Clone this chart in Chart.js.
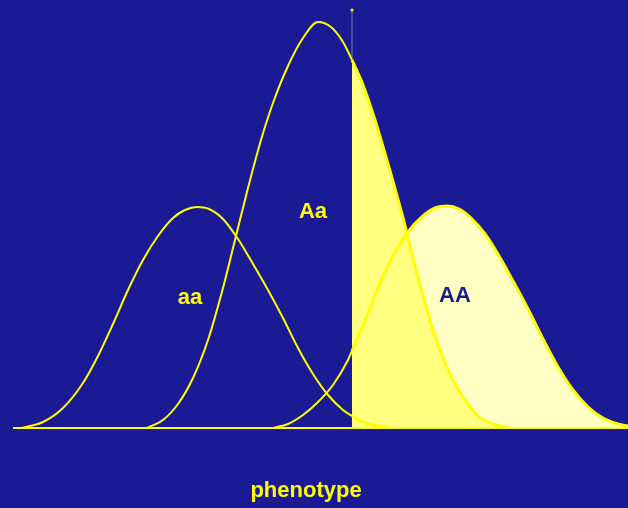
<!DOCTYPE html>
<html>
<head>
<meta charset="utf-8">
<title>phenotype</title>
<script src="https://cdn.jsdelivr.net/npm/chart.js@4.4.1/dist/chart.umd.min.js"></script>
<style>
  body { margin: 0; background: #1a1a94; }
  canvas { display: block; }
</style>
</head>
<body>
<canvas id="myChart" width="628" height="508"></canvas>
<script>
// genotype distributions along the phenotype axis, [phenotype, frequency]
const aaCurve = [[9,0],[30,6],[50,20],[70,45],[85,72],[100,104],[115,138],[130,168],[145,192],[160,210],
  [172,218],[184,221],[196,219],[210,209],[225,189],[240,164],[255,138],[270,110],[285,80],[300,54],
  [315,33],[330,18],[339,12],[345,8],[360,3],[377,0]];
const AaCurve = [[134,0],[150,8],[165,24],[180,50],[195,88],[210,140],[222,188],[235,240],[248,288],
  [260,325],[275,362],[290,390],[305,406],[318,401],[330,386],[339,368],[350,343],[362,308],[375,264],
  [390,210],[405,150],[420,98],[435,58],[450,31],[465,12],[480,4],[497,0]];
const AACurve = [[260,0],[275,4],[290,13],[305,26],[320,43],[335,68],[339,77],[350,102],[365,140],
  [380,172],[395,196],[410,212],[422,220],[434,222],[446,219],[458,210],[472,194],[486,172],[500,147],
  [515,119],[530,89],[545,61],[560,38],[575,21],[590,10],[605,4],[615,2]];
const threshold = 339;
const xRange = [0, 615];
const yRange = [0, 418];

const yellow = '#ffff00';

const toXY = arr => arr.map(p => ({ x: p[0], y: p[1] }));

// only the part right of the threshold gets filled
function curve(data, fillColor) {
  return {
    data: toXY(data),
    borderColor: yellow,
    borderWidth: 2,
    pointRadius: 0,
    cubicInterpolationMode: 'monotone',
    fill: 'origin',
    backgroundColor: fillColor,
    segment: {
      backgroundColor: c => c.p0.parsed.x >= threshold ? fillColor : 'rgba(0,0,0,0)',
      borderWidth: c => c.p0.parsed.x >= threshold ? 3 : 2
    }
  };
}

const textLabels = [
  { text: 'aa', x: 177, y: 124, color: yellow },
  { text: 'Aa', x: 300, y: 210, color: yellow },
  { text: 'AA', x: 442, y: 126, color: '#1c1c8c' },
  { text: 'phenotype', x: 293, y: -69, color: yellow }
];

const labelPlugin = {
  id: 'textLabels',
  afterDatasetsDraw(chart) {
    const { ctx, scales } = chart;
    ctx.save();
    ctx.font = 'bold 22px "Liberation Sans", Arial, sans-serif';
    ctx.textAlign = 'center';
    ctx.textBaseline = 'alphabetic';
    textLabels.forEach(l => {
      ctx.fillStyle = l.color;
      ctx.fillText(l.text, scales.x.getPixelForValue(l.x), scales.y.getPixelForValue(l.y));
    });
    ctx.restore();
  }
};

const ctx = document.getElementById('myChart');
const chart = new Chart(ctx, {
  type: 'line',
  data: {
    datasets: [
      curve(aaCurve, '#ffff80'),
      curve(AaCurve, '#ffff80'),
      curve(AACurve, '#ffffc4'),
      {
        // baseline
        data: toXY([[xRange[0], 0], [xRange[1], 0]]),
        borderColor: yellow,
        borderWidth: 2,
        pointRadius: 0,
        clip: false,
        fill: false
      },
      {
        // threshold marker
        data: toXY([[threshold, 368], [threshold, yRange[1]]]),
        borderColor: '#7c7ca4',
        borderWidth: 1,
        pointRadius: [0, 1.5],
        pointBackgroundColor: yellow,
        pointBorderWidth: 0,
        clip: false,
        fill: false
      }
    ]
  },
  options: {
    responsive: false,
    animation: false,
    devicePixelRatio: 1,
    layout: { autoPadding: false, padding: { left: 13, right: 0, top: 10, bottom: 80 } },
    scales: {
      x: { type: 'linear', display: false, min: xRange[0], max: xRange[1] },
      y: { display: false, min: yRange[0], max: yRange[1] }
    },
    plugins: {
      legend: { display: false },
      tooltip: { enabled: false },
      filler: { drawTime: 'beforeDatasetsDraw' }
    }
  },
  plugins: [labelPlugin]
});
</script>
</body>
</html>
